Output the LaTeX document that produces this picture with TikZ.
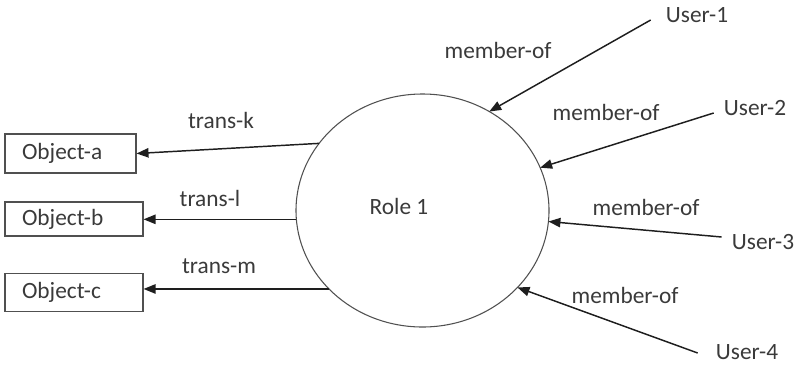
\documentclass[tikz,border=0pt]{standalone}
\usepackage{fontspec}
\setmainfont{Carlito}
\usetikzlibrary{shapes.geometric,arrows.meta}
\definecolor{textgray}{HTML}{3A3A3A}
\definecolor{boxgray}{HTML}{505050}
\definecolor{linegray}{HTML}{1E1E1E}
\begin{document}
\begin{tikzpicture}[x=0.75pt,y=-0.75pt,
  every node/.style={font=\fontsize{17.5}{21}\selectfont, text=textgray},
  objbox/.style={draw=boxgray, line width=0.8pt, inner xsep=12.75pt, inner ysep=2pt, align=left},
  rolecirc/.style={ellipse, draw=boxgray, line width=0.8pt, inner sep=0pt, outer sep=0pt,
    minimum width=189.75pt, minimum height=174.75pt},
  usertxt/.style={inner xsep=0pt},
  lbl/.style={inner sep=0pt},
  arr/.style={draw=linegray, line width=1.1pt, -{Triangle[length=9pt,width=7pt]}}]
  \useasboundingbox (0,0) rectangle (799,365);

  % the role
  \node[rolecirc] (role) at (422.5,210.5) {};
  \node[lbl] (rolelbl) at (399,206) {Role 1};

  % objects
  \node[objbox, text width=72.75pt, minimum height=29.25pt] (obja) at (70.5,153.5) {Object-a};
  \node[objbox, text width=78pt, minimum height=25.5pt] (objb) at (74,219) {Object-b};
  \node[objbox, text width=78pt, minimum height=28.5pt] (objc) at (74,292.5) {Object-c};

  % users
  \node[usertxt] (u1) at (697,15) {User-1};
  \node[usertxt] (u2) at (755,108) {User-2};
  \node[usertxt] (u3) at (763,242) {User-3};
  \node[usertxt] (u4) at (747,352) {User-4};

  % transactions
  \draw[arr] (role.147.8) -- (obja.east);
  \draw[arr] (role.184.7) -- (role.184.7 -| objb.east);
  \draw[arr] (role.220.7) -- (role.220.7 -| objc.east);
  \node[lbl] (tk) at (221,120) {trans-k};
  \node[lbl] (tl) at (210,198) {trans-l};
  \node[lbl] (tm) at (219,266) {trans-m};

  % memberships
  \draw[arr] ([shift={(-15,5)}]u1.west) -- (role.56.4);
  \draw[arr] ([shift={(-10,5)}]u2.west) -- (role.20.7);
  \draw[arr] ([shift={(-10,-5)}]u3.west) -- (role.-5.2);
  \draw[arr] ([shift={(-18,1)}]u4.west) -- (role.-39.3);
  \node[lbl] (m1) at (498,50) {member-of};
  \node[lbl] (m2) at (606,112) {member-of};
  \node[lbl] (m3) at (646,207) {member-of};
  \node[lbl] (m4) at (625,295) {member-of};
\end{tikzpicture}
\end{document}
